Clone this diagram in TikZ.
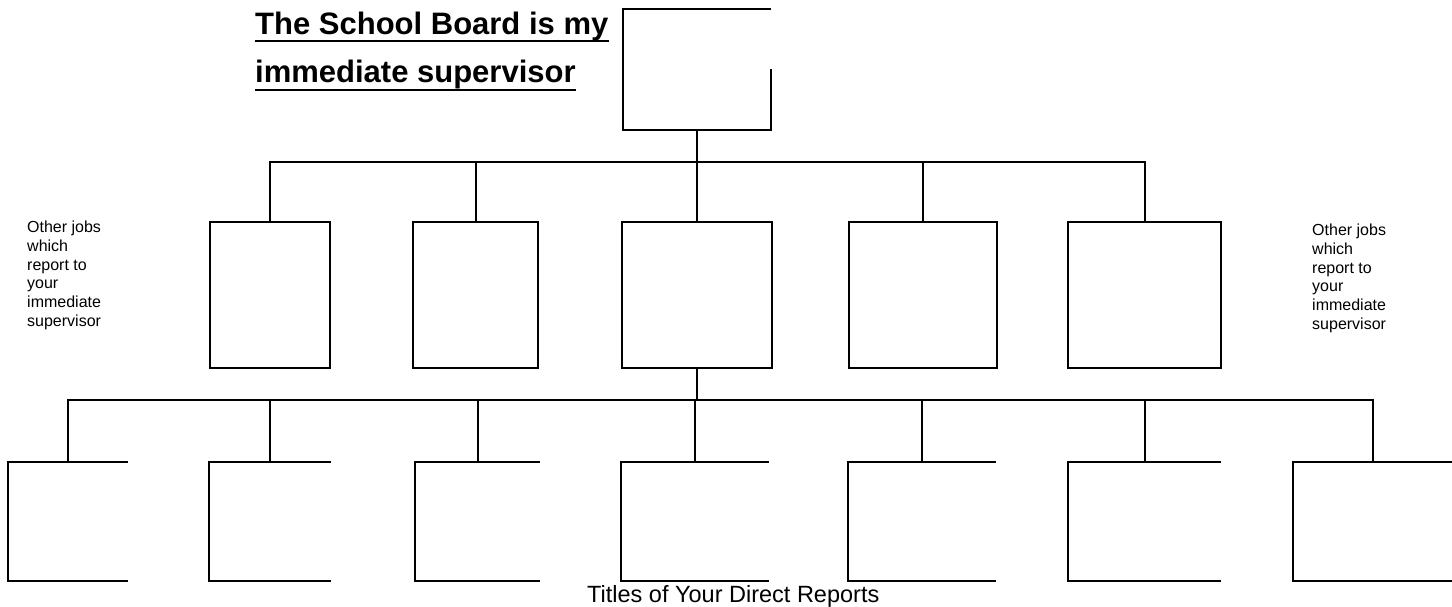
\documentclass[tikz,border=0pt]{standalone}
\usepackage{fontspec}
\setmainfont{Liberation Sans}
\begin{document}
\begin{tikzpicture}[x=1pt,y=-1pt,
  slot/.style={inner sep=0pt, outer sep=0pt, draw=none},
  boxline/.style={line width=2.6pt, line join=miter},
  conn/.style={line width=2pt},
  ttl/.style={anchor=base west, inner sep=0pt, font=\bfseries\fontsize{31}{37}\selectfont},
  side/.style={anchor=north west, align=left, inner sep=0pt, font=\fontsize{16}{18.7}\selectfont},
  uline/.style={line width=2.6pt}]
\useasboundingbox (0,0) rectangle (1452,607);

% title
\node[ttl] (t1) at (255,35) {The School Board is my};
\node[ttl] (t2) at (255,83) {immediate supervisor};
\draw[uline] ([yshift=-6pt]t1.base west) -- ([yshift=-6pt]t1.base east);
\draw[uline] ([yshift=-7pt]t2.base west) -- ([yshift=-7pt]t2.base east);

% top box (right side open at top)
\node[slot, minimum width=148pt, minimum height=121pt] (top) at (697,69.5) {};
\draw[boxline] (top.north east) -- (top.north west) -- (top.south west) -- (top.south east) -- (top.east);

% row 2 boxes
\node[slot, draw, boxline, minimum width=120pt, minimum height=146pt] (r1) at (270,295) {};
\node[slot, draw, boxline, minimum width=125pt, minimum height=146pt] (r2) at (475.5,295) {};
\node[slot, draw, boxline, minimum width=150pt, minimum height=146pt] (r3) at (697,295) {};
\node[slot, draw, boxline, minimum width=148pt, minimum height=146pt] (r4) at (923,295) {};
\node[slot, draw, boxline, minimum width=153pt, minimum height=146pt] (r5) at (1144.5,295) {};

\coordinate (hub) at (697,162);
\draw[conn] (top.south) -- (hub);
\draw[conn] (r1.north) |- (hub) -| (r5.north);
\draw[conn] (r2.north) -- (r2.north |- hub);
\draw[conn] (r3.north) -- (hub);
\draw[conn] (r4.north) -- (r4.north |- hub);

% row 3 boxes (open on the right)
\node[slot, minimum width=120pt, minimum height=119pt] (b1) at (68,521.5) {};
\node[slot, minimum width=122pt, minimum height=119pt] (b2) at (270,521.5) {};
\node[slot, minimum width=125pt, minimum height=119pt] (b3) at (477.5,521.5) {};
\node[slot, minimum width=148pt, minimum height=119pt] (b4) at (695,521.5) {};
\node[slot, minimum width=148pt, minimum height=119pt] (b5) at (922,521.5) {};
\node[slot, minimum width=153pt, minimum height=119pt] (b6) at (1144.5,521.5) {};
\node[slot, minimum width=159pt, minimum height=119pt] (b7) at (1372.5,521.5) {};
\foreach \b in {b1,b2,b3,b4,b5,b6,b7}{
  \draw[boxline] (\b.north east) -- (\b.north west) -- (\b.south west) -- (\b.south east);
}

\coordinate (hub2) at (697,400);
\draw[conn] (r3.south) -- (hub2);
\draw[conn] (b1.north) |- (hub2) -| (b7.north);
\foreach \b in {b2,b3,b4,b5,b6}{
  \draw[conn] (\b.north) -- (\b.north |- hub2);
}

% side labels
\node[side] (oleft) at (27,221) {Other jobs\\which\\report to\\your\\immediate\\supervisor};
\node[side] (oright) at (1312,224) {Other jobs\\which\\report to\\your\\immediate\\supervisor};

% bottom caption
\node[anchor=base west, inner sep=0pt, font=\fontsize{23.5}{28}\selectfont] (titles) at (587,602) {Titles of Your Direct Reports};
\end{tikzpicture}
\end{document}
